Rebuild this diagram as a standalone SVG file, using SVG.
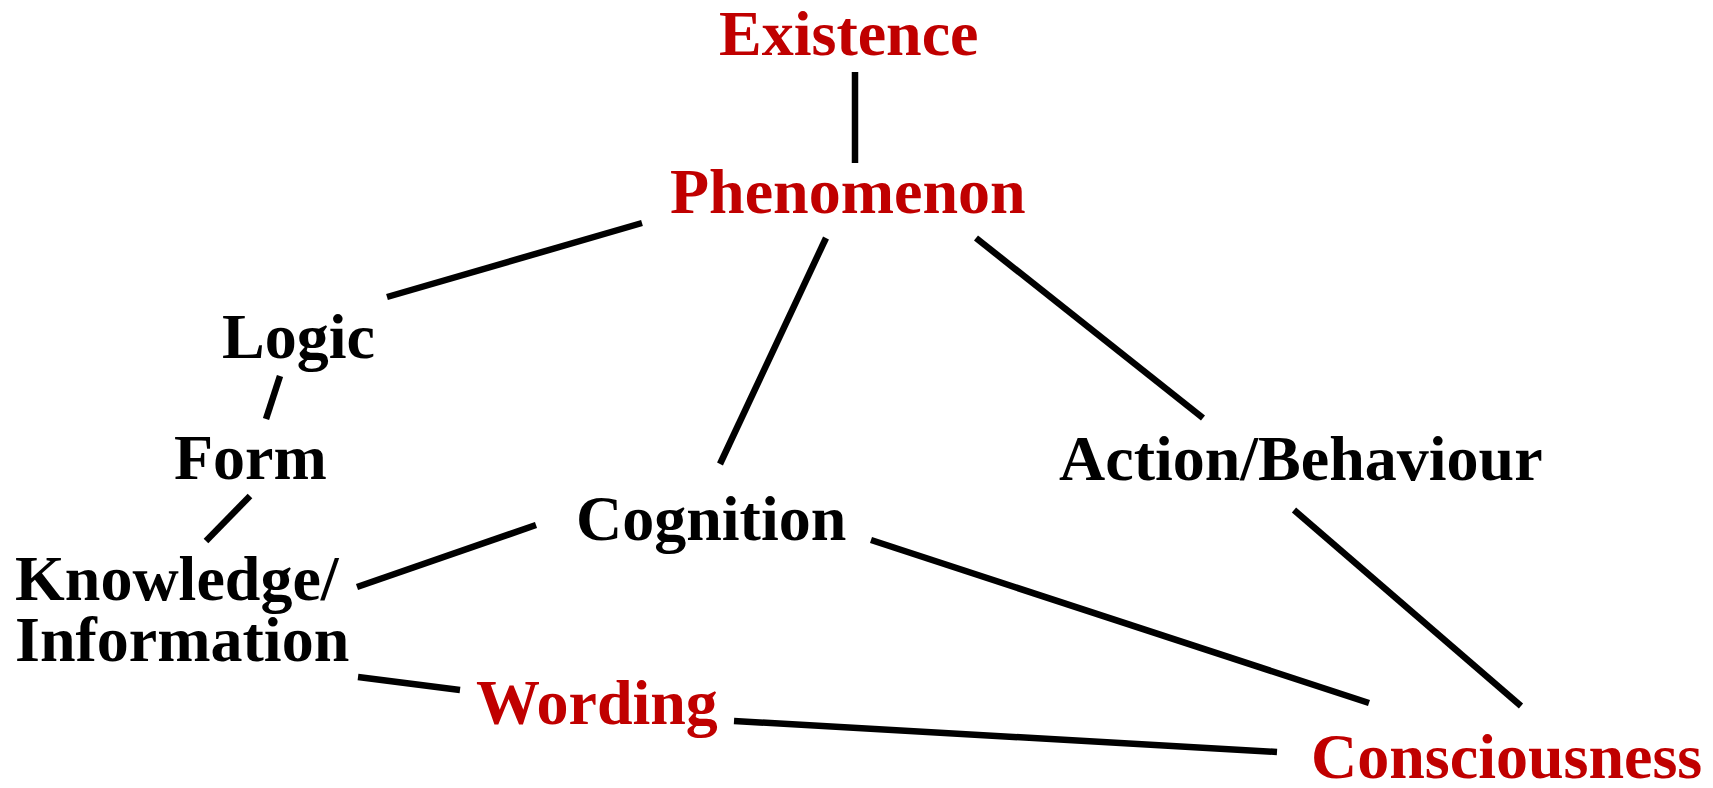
<svg xmlns="http://www.w3.org/2000/svg" width="1713" height="788" viewBox="0 0 1713 788">
<style>
text{font-family:"Liberation Serif","Times New Roman",serif;font-weight:bold;font-size:64px}
.r{fill:#C00000}.k{fill:#000}
.c line{stroke:#000;stroke-width:6.5;stroke-linecap:butt}
</style>
<rect width="1713" height="788" fill="#fff"/>
<g class="c" id="connectors">
<line x1="855" y1="72" x2="855" y2="163"/>
<line x1="642" y1="223" x2="387" y2="297"/>
<line x1="826" y1="238" x2="720" y2="464"/>
<line x1="976" y1="238" x2="1203" y2="418"/>
<line x1="280" y1="376" x2="266" y2="419"/>
<line x1="250" y1="496" x2="206" y2="541"/>
<line x1="357" y1="587" x2="536" y2="525"/>
<line x1="358" y1="677" x2="460" y2="690"/>
<line x1="871" y1="540" x2="1369" y2="703"/>
<line x1="734" y1="721" x2="1277" y2="752"/>
<line x1="1294" y1="510" x2="1521" y2="706"/>
</g>
<g id="existence"><text class="r" x="719" y="55">Existence</text></g>
<g id="phenomenon"><text class="r" x="670" y="213">Phenomenon</text></g>
<g id="logic"><text class="k" x="222" y="358">Logic</text></g>
<g id="form"><text class="k" x="174" y="479">Form</text></g>
<g id="knowledge"><text class="k" x="15" y="600">Knowledge/</text><text class="k" x="15" y="661">Information</text></g>
<g id="cognition"><text class="k" x="576" y="540">Cognition</text></g>
<g id="action"><text class="k" x="1059" y="480">Action/Behaviour</text></g>
<g id="wording"><text class="r" x="476" y="724">Wording</text></g>
<g id="consciousness"><text class="r" x="1311" y="778">Consciousness</text></g>
</svg>
